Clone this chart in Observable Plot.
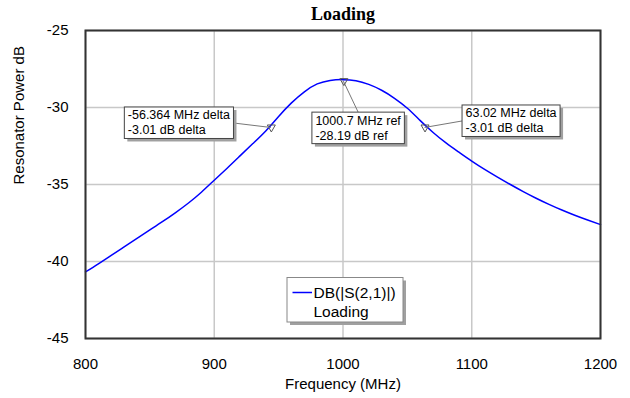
<!DOCTYPE html>
<html>
<head>
<meta charset="utf-8">
<script src="https://cdn.jsdelivr.net/npm/d3@7"></script>
<script src="https://cdn.jsdelivr.net/npm/@observablehq/plot@0.6"></script>
<style>
  html, body { margin: 0; padding: 0; background: #fff; }
  #chart svg { display: block; }
</style>
</head>
<body>
<div id="chart"></div>
<script>
// ---- data ----
const freqMHz = [800, 810, 820, 830, 840, 850, 860, 870, 880, 890, 900, 910, 920, 930, 940, 950, 960, 970, 980, 990,
                 1000, 1010, 1020, 1030, 1040, 1050, 1060, 1070, 1080, 1090, 1100, 1110, 1120, 1130, 1140, 1150, 1160, 1170, 1180, 1190, 1200];
const powerDb = [-40.68, -40.15, -39.6, -39.05, -38.5, -37.95, -37.4, -36.82, -36.2, -35.5, -34.72, -33.94, -33.14, -32.34, -31.52, -30.58, -29.7, -28.98, -28.47, -28.24,
                 -28.19, -28.26, -28.5, -28.88, -29.4, -30.05, -30.85, -31.62, -32.3, -32.9, -33.48, -34.02, -34.52, -35.0, -35.46, -35.89, -36.29, -36.66, -37.0, -37.31, -37.6];
const xTicks = [800, 900, 1000, 1100, 1200];
const yTicks = [-25, -30, -35, -40, -45];
const markerFreq = [944.336, 1000.7, 1063.72];
const markerDb = [-31.2, -28.19, -31.2];
const markerLine1 = ["-56.364 MHz delta", "1000.7 MHz ref", "63.02 MHz delta"];
const markerLine2 = ["-3.01 dB delta", "-28.19 dB ref", "-3.01 dB delta"];
const titleText = "Loading";
const xLabel = "Frequency (MHz)";
const yLabel = "Resonator Power dB";
const legendName = "DB(|S(2,1)|)";
const legendSource = "Loading";

const curve = freqMHz.map((f, i) => ({f, db: powerDb[i]}));
const markers = markerFreq.map((f, i) => ({f, db: markerDb[i], l1: markerLine1[i], l2: markerLine2[i]}));

const sans = "'Liberation Sans', Arial, Helvetica, sans-serif";
const serif = "'Liberation Serif', 'Times New Roman', serif";

const downTriangle = {
  draw(ctx) { ctx.moveTo(-4, -1); ctx.lineTo(4, -1); ctx.lineTo(0, 6); ctx.closePath(); }
};

const plot = Plot.plot({
  width: 630,
  height: 398,
  marginLeft: 85,
  marginRight: 30,
  marginTop: 30,
  marginBottom: 60,
  style: {fontFamily: sans, background: "#fff", color: "#000", overflow: "visible"},
  x: {domain: [800, 1200]},
  y: {domain: [-45, -25]},
  marks: [
    Plot.gridX(xTicks, {stroke: "#c8c8c8", strokeOpacity: 1, strokeWidth: 1.5}),
    Plot.gridY(yTicks, {stroke: "#c8c8c8", strokeOpacity: 1, strokeWidth: 1.5}),
    Plot.axisX(xTicks, {tickSize: 0, tickPadding: 20, tickFormat: d => String(d), fontSize: 15, label: null}),
    Plot.axisY(yTicks, {tickSize: 0, tickPadding: 17, tickFormat: d => String(d), fontSize: 15, label: null}),
    Plot.line(curve, {x: "f", y: "db", stroke: "#0000ff", strokeWidth: 1.5, curve: "natural"}),
    Plot.dot(markers, {x: "f", y: "db", symbol: downTriangle, stroke: "#555", strokeWidth: 1, fill: "none"}),
    Plot.frame({stroke: "#333", strokeWidth: 2}),
    Plot.text([titleText], {frameAnchor: "top", lineAnchor: "middle", dy: -16, fontFamily: serif, fontWeight: "bold", fontSize: 18, fill: "#000"}),
    Plot.text([xLabel], {frameAnchor: "bottom", lineAnchor: "middle", dy: 46, fontSize: 15, fill: "#000"}),
    Plot.text([yLabel], {frameAnchor: "left", lineAnchor: "middle", dx: -66, rotate: -90, fontSize: 15, fill: "#000"})
  ]
});

document.getElementById("chart").append(plot);

// ---- marker annotations (boxes + leader lines), placed through the plot's own scales ----
const xs = plot.scale("x"), ys = plot.scale("y");
const svg = d3.select(plot);
const boxLayout = [
  {dx: -146.5, dy: -18.5, lead: "right"},
  {dx: -31.5, dy: 33, lead: "top"},
  {dx: 37.5, dy: -20.5, lead: "left"}
];
const annFont = 12.5, pad = 3.5, boxH = 31.5;
markers.forEach((m, i) => {
  const px = xs.apply(m.f), py = ys.apply(m.db);
  const L = boxLayout[i];
  const left = px + L.dx, top = py + L.dy;
  const g = svg.append("g").attr("font-family", sans).attr("font-size", annFont).attr("fill", "#000").attr("text-anchor", "start");
  const leader = g.append("line").attr("stroke", "#777").attr("stroke-width", 1);
  const shadow = g.append("rect").attr("fill", "#a0a0a0");
  const box = g.append("rect").attr("fill", "#fff").attr("stroke", "#444").attr("stroke-width", 1);
  const t1 = g.append("text").attr("x", left + pad).attr("y", top + 12.5).attr("text-anchor", "start").text(m.l1);
  const t2 = g.append("text").attr("x", left + pad).attr("y", top + 27.5).attr("text-anchor", "start").text(m.l2);
  const w = Math.max(t1.node().getComputedTextLength(), t2.node().getComputedTextLength()) + 2 * pad;
  shadow.attr("x", left + 3).attr("y", top + 3).attr("width", w).attr("height", boxH);
  box.attr("x", left).attr("y", top).attr("width", w).attr("height", boxH);
  let lx, ly;
  if (L.lead === "right") { lx = left + w; ly = top + 16; }
  else if (L.lead === "left") { lx = left; ly = top + 16; }
  else { lx = left + w / 2; ly = top; }
  leader.attr("x1", lx).attr("y1", ly).attr("x2", px).attr("y2", py + 2);
});

// ---- legend box inside the plot frame ----
const [fx0, fx1] = xs.range;
const fyBottom = Math.max(...ys.range);
const lgLeft = (fx0 + fx1) / 2 - 55.5, lgTop = fyBottom - 60.5, lgW = 116, lgH = 44.5;
const lg = svg.append("g").attr("font-family", sans).attr("font-size", 15.5).attr("fill", "#000").attr("text-anchor", "start");
lg.append("rect").attr("x", lgLeft + 3).attr("y", lgTop + 3).attr("width", lgW).attr("height", lgH).attr("fill", "#a0a0a0");
lg.append("rect").attr("x", lgLeft).attr("y", lgTop).attr("width", lgW).attr("height", lgH).attr("fill", "#fff").attr("stroke", "#888").attr("stroke-width", 1);
lg.append("line").attr("x1", lgLeft + 5.5).attr("x2", lgLeft + 25).attr("y1", lgTop + 15).attr("y2", lgTop + 15).attr("stroke", "#0000ff").attr("stroke-width", 1.5);
lg.append("text").attr("x", lgLeft + 26.5).attr("y", lgTop + 20.5).attr("text-anchor", "start").text(legendName);
lg.append("text").attr("x", lgLeft + 26.5).attr("y", lgTop + 39.5).attr("text-anchor", "start").text(legendSource);
</script>
</body>
</html>
